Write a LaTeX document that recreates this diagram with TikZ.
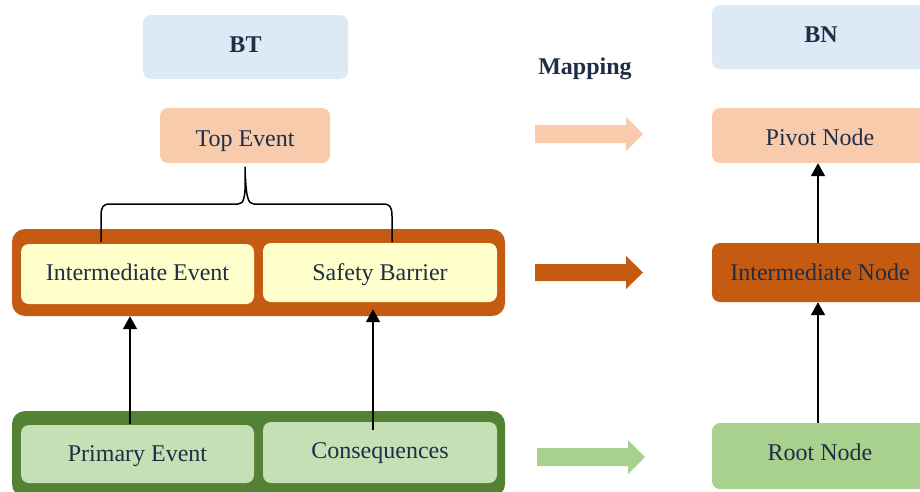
\documentclass[tikz,border=0pt]{standalone}
\usepackage{fontspec}
\setmainfont{Liberation Serif}
\usetikzlibrary{arrows.meta,calc}
\definecolor{lblue}{HTML}{DDEAF6}
\definecolor{peach}{HTML}{F8CBAD}
\definecolor{rust}{HTML}{C55A11}
\definecolor{lyellow}{HTML}{FFFFCC}
\definecolor{dgreen}{HTML}{548235}
\definecolor{lgreen}{HTML}{C5E0B4}
\definecolor{mgreen}{HTML}{A9D18E}
\definecolor{txt}{HTML}{1F2D47}
\begin{document}
\begin{tikzpicture}[x=1pt,y=-1pt,
  box/.style={rounded corners=8pt, inner sep=0pt, text=txt, text depth=0pt, font=\fontsize{24}{27}\selectfont},
  container/.style={rounded corners=13pt, inner sep=0pt},
  head/.style={box, font=\fontsize{24}{27}\selectfont\bfseries},
  arr/.style={line width=2pt, -{Triangle[width=14pt,length=13pt]}},
  bracestyle/.style={line width=1.5pt, line join=round}]
\clip (0,0) rectangle (920,491);
\fill[white] (0,0) rectangle (920,491);

% headers
\node[head, fill=lblue, minimum width=205pt, minimum height=64pt, text height=10.6pt] (bt) at (245.5,47) {BT};
\node[head, fill=lblue, minimum width=218pt, minimum height=64pt, text height=10.6pt] (bn) at (821,37) {BN};
\node[anchor=base, inner sep=0pt, text=txt, font=\fontsize{24}{27}\selectfont\bfseries] (map) at (585,74.5) {Mapping};

% BT side
\node[box, fill=peach, minimum width=170pt, minimum height=55pt, text height=21pt] (top) at (245,135.5) {Top Event};
\node[container, fill=rust, minimum width=493pt, minimum height=87pt] (orange) at (258.5,272.5) {};
\node[box, fill=lyellow, minimum width=233pt, minimum height=60pt, text height=13.4pt] (ie) at (137.5,274) {Intermediate Event};
\node[box, fill=lyellow, minimum width=234pt, minimum height=59pt, text height=16.4pt] (sb) at (380,272.5) {Safety Barrier};
\node[container, fill=dgreen, minimum width=493pt, minimum height=86pt] (green) at (258.5,454) {};
\node[box, fill=lgreen, minimum width=233pt, minimum height=58pt, text height=15.4pt] (pe) at (137.5,454) {Primary Event};
\node[box, fill=lgreen, minimum width=234pt, minimum height=61pt, text height=11pt] (cq) at (380,452.5) {Consequences};

% BN side
\node[box, fill=peach, minimum width=216pt, minimum height=55pt, text height=19pt] (pivot) at (820,135.5) {Pivot Node};
\node[box, fill=rust, minimum width=216pt, minimum height=59pt, text height=16.4pt] (in) at (820,272.5) {Intermediate Node};
\node[box, fill=mgreen, minimum width=216pt, minimum height=66pt, text height=9.4pt] (rn) at (820,456) {Root Node};

% mapping block arrows
\fill[peach] (535,125) -- (626,125) -- (626,117) -- (643,134) -- (626,151) -- (626,143) -- (535,143) -- cycle;
\fill[rust] (535,264) -- (626,264) -- (626,256) -- (643,272.5) -- (626,289) -- (626,281) -- (535,281) -- cycle;
\fill[mgreen] (537,448) -- (628,448) -- (628,440) -- (645,457) -- (628,474) -- (628,466) -- (537,466) -- cycle;

% brace
\coordinate (bl) at (101,242);
\coordinate (br) at (392,242);
\draw[bracestyle] (bl) -- (101,216) .. controls (101,207) and (103,204) .. (110,204) -- (238,204)
  .. controls (244,204) and (246,198) .. ([yshift=-4pt]top.south)
  .. controls (246,198) and (248,204) .. (254,204) -- (383,204)
  .. controls (390,204) and (392,207) .. (392,216) -- (br);

% arrows
\draw[arr] ([xshift=-7.5pt,yshift=1pt]pe.north) -- ([xshift=-7.5pt]pe.north |- orange.south);
\draw[arr] ([xshift=-7pt,yshift=-8pt]cq.north) -- ([xshift=-7pt,yshift=-7pt]sb.south);
\draw[arr] ([xshift=-2pt]rn.north) -- ([xshift=-2pt]in.south);
\draw[arr] ([xshift=-2pt]in.north) -- ([xshift=-2pt]pivot.south);
\end{tikzpicture}
\end{document}
